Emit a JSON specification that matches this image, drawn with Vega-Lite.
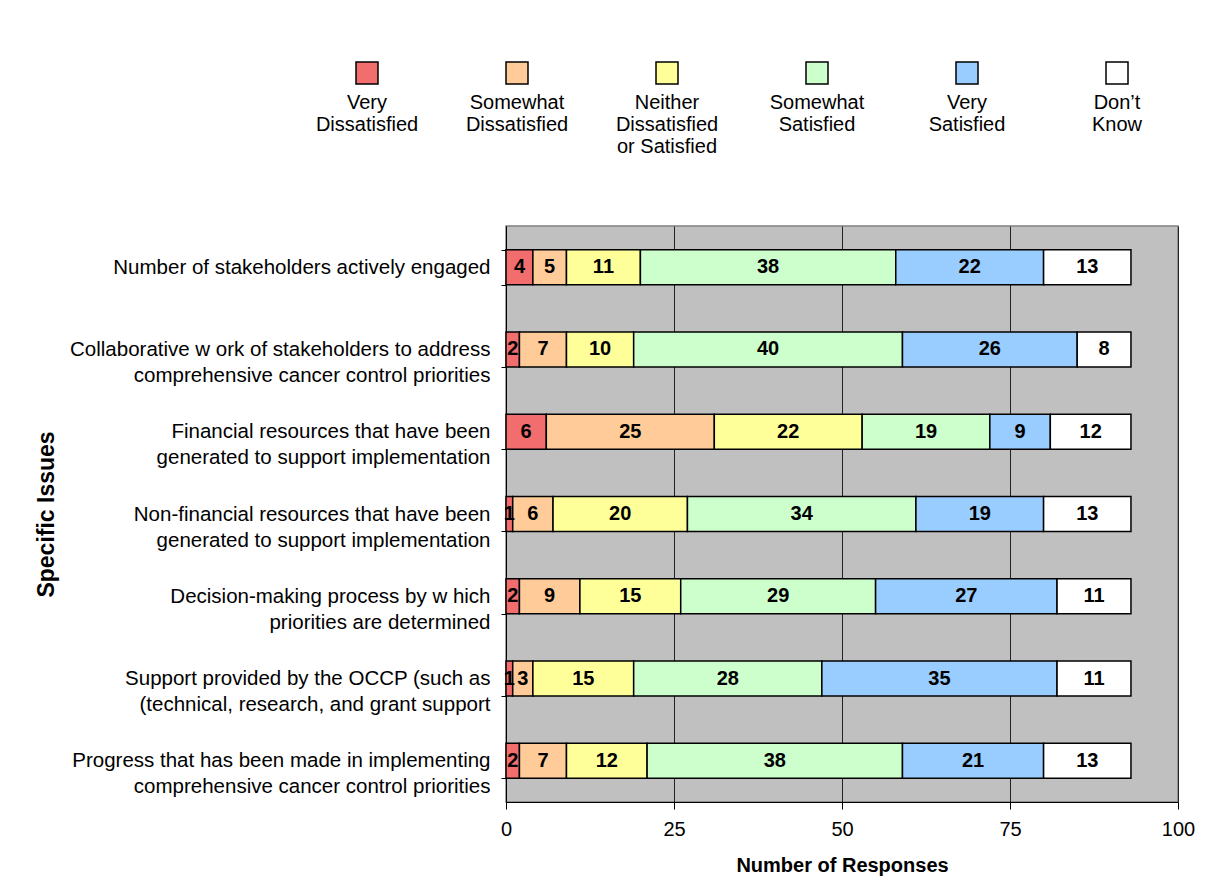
{
  "$schema": "https://vega.github.io/schema/vega-lite/v6.json",
  "width": 672,
  "height": 576,
  "autosize": {"type": "none"},
  "padding": {"left": 506, "top": 226, "right": 50, "bottom": 88},
  "background": "white",
  "config": {
    "font": "Liberation Sans",
    "view": {"fill": "#C0C0C0", "stroke": "#808080", "strokeWidth": 1.5}
  },
  "data": {
    "values": [
      {"issue": "Number of stakeholders actively engaged", "level": "Very Dissatisfied", "k": 1, "n": 4},
      {"issue": "Number of stakeholders actively engaged", "level": "Somewhat Dissatisfied", "k": 2, "n": 5},
      {"issue": "Number of stakeholders actively engaged", "level": "Neither Dissatisfied or Satisfied", "k": 3, "n": 11},
      {"issue": "Number of stakeholders actively engaged", "level": "Somewhat Satisfied", "k": 4, "n": 38},
      {"issue": "Number of stakeholders actively engaged", "level": "Very Satisfied", "k": 5, "n": 22},
      {"issue": "Number of stakeholders actively engaged", "level": "Don’t Know", "k": 6, "n": 13},
      {"issue": "Collaborative w ork of stakeholders to address|comprehensive cancer control priorities", "level": "Very Dissatisfied", "k": 1, "n": 2},
      {"issue": "Collaborative w ork of stakeholders to address|comprehensive cancer control priorities", "level": "Somewhat Dissatisfied", "k": 2, "n": 7},
      {"issue": "Collaborative w ork of stakeholders to address|comprehensive cancer control priorities", "level": "Neither Dissatisfied or Satisfied", "k": 3, "n": 10},
      {"issue": "Collaborative w ork of stakeholders to address|comprehensive cancer control priorities", "level": "Somewhat Satisfied", "k": 4, "n": 40},
      {"issue": "Collaborative w ork of stakeholders to address|comprehensive cancer control priorities", "level": "Very Satisfied", "k": 5, "n": 26},
      {"issue": "Collaborative w ork of stakeholders to address|comprehensive cancer control priorities", "level": "Don’t Know", "k": 6, "n": 8},
      {"issue": "Financial resources that have been|generated  to support implementation", "level": "Very Dissatisfied", "k": 1, "n": 6},
      {"issue": "Financial resources that have been|generated  to support implementation", "level": "Somewhat Dissatisfied", "k": 2, "n": 25},
      {"issue": "Financial resources that have been|generated  to support implementation", "level": "Neither Dissatisfied or Satisfied", "k": 3, "n": 22},
      {"issue": "Financial resources that have been|generated  to support implementation", "level": "Somewhat Satisfied", "k": 4, "n": 19},
      {"issue": "Financial resources that have been|generated  to support implementation", "level": "Very Satisfied", "k": 5, "n": 9},
      {"issue": "Financial resources that have been|generated  to support implementation", "level": "Don’t Know", "k": 6, "n": 12},
      {"issue": "Non-financial resources that have been|generated  to support implementation", "level": "Very Dissatisfied", "k": 1, "n": 1},
      {"issue": "Non-financial resources that have been|generated  to support implementation", "level": "Somewhat Dissatisfied", "k": 2, "n": 6},
      {"issue": "Non-financial resources that have been|generated  to support implementation", "level": "Neither Dissatisfied or Satisfied", "k": 3, "n": 20},
      {"issue": "Non-financial resources that have been|generated  to support implementation", "level": "Somewhat Satisfied", "k": 4, "n": 34},
      {"issue": "Non-financial resources that have been|generated  to support implementation", "level": "Very Satisfied", "k": 5, "n": 19},
      {"issue": "Non-financial resources that have been|generated  to support implementation", "level": "Don’t Know", "k": 6, "n": 13},
      {"issue": "Decision-making process by w hich|priorities are determined", "level": "Very Dissatisfied", "k": 1, "n": 2},
      {"issue": "Decision-making process by w hich|priorities are determined", "level": "Somewhat Dissatisfied", "k": 2, "n": 9},
      {"issue": "Decision-making process by w hich|priorities are determined", "level": "Neither Dissatisfied or Satisfied", "k": 3, "n": 15},
      {"issue": "Decision-making process by w hich|priorities are determined", "level": "Somewhat Satisfied", "k": 4, "n": 29},
      {"issue": "Decision-making process by w hich|priorities are determined", "level": "Very Satisfied", "k": 5, "n": 27},
      {"issue": "Decision-making process by w hich|priorities are determined", "level": "Don’t Know", "k": 6, "n": 11},
      {"issue": "Support provided by the OCCP (such as|(technical, research, and grant support", "level": "Very Dissatisfied", "k": 1, "n": 1},
      {"issue": "Support provided by the OCCP (such as|(technical, research, and grant support", "level": "Somewhat Dissatisfied", "k": 2, "n": 3},
      {"issue": "Support provided by the OCCP (such as|(technical, research, and grant support", "level": "Neither Dissatisfied or Satisfied", "k": 3, "n": 15},
      {"issue": "Support provided by the OCCP (such as|(technical, research, and grant support", "level": "Somewhat Satisfied", "k": 4, "n": 28},
      {"issue": "Support provided by the OCCP (such as|(technical, research, and grant support", "level": "Very Satisfied", "k": 5, "n": 35},
      {"issue": "Support provided by the OCCP (such as|(technical, research, and grant support", "level": "Don’t Know", "k": 6, "n": 11},
      {"issue": "Progress that has been made in implementing|comprehensive cancer control priorities", "level": "Very Dissatisfied", "k": 1, "n": 2},
      {"issue": "Progress that has been made in implementing|comprehensive cancer control priorities", "level": "Somewhat Dissatisfied", "k": 2, "n": 7},
      {"issue": "Progress that has been made in implementing|comprehensive cancer control priorities", "level": "Neither Dissatisfied or Satisfied", "k": 3, "n": 12},
      {"issue": "Progress that has been made in implementing|comprehensive cancer control priorities", "level": "Somewhat Satisfied", "k": 4, "n": 38},
      {"issue": "Progress that has been made in implementing|comprehensive cancer control priorities", "level": "Very Satisfied", "k": 5, "n": 21},
      {"issue": "Progress that has been made in implementing|comprehensive cancer control priorities", "level": "Don’t Know", "k": 6, "n": 13}
    ]
  },
  "encoding": {
    "y": {
      "field": "issue",
      "type": "nominal",
      "sort": null,
      "scale": {"paddingInner": 0.575, "paddingOuter": 0.2875},
      "axis": {
        "title": "Specific Issues",
        "titleFontSize": 23,
        "titleFontWeight": "bold",
        "titleColor": "black",
        "titleX": -460,
        "titleY": 288,
        "titleAngle": 270,
        "titleAlign": "center",
        "titleBaseline": "middle",
        "labelExpr": "split(datum.label, '|')",
        "labelFontSize": 20.5,
        "labelColor": "black",
        "labelLineHeight": 26,
        "labelPadding": 11,
        "labelLimit": 600,
        "tickBand": "extent",
        "tickSize": 5,
        "tickColor": "black",
        "domainColor": "black",
        "grid": false
      }
    },
    "x": {
      "field": "n",
      "type": "quantitative",
      "stack": "zero",
      "scale": {"domain": [0, 100]},
      "axis": {
        "values": [0, 25, 50, 75, 100],
        "title": "Number of Responses",
        "titleFontSize": 20,
        "titleFontWeight": "bold",
        "titleColor": "black",
        "titleY": 63,
        "titleBaseline": "middle",
        "labelFontSize": 20,
        "labelColor": "black",
        "labelPadding": 10,
        "labelFlush": false,
        "tickSize": 7,
        "tickColor": "black",
        "domainColor": "black",
        "grid": true,
        "gridColor": "#222222",
        "gridWidth": 1
      }
    },
    "order": {"field": "k", "type": "quantitative"}
  },
  "layer": [
    {
      "mark": {"type": "bar", "stroke": "black", "strokeWidth": 1.5},
      "encoding": {
        "color": {
          "field": "level",
          "type": "nominal",
          "scale": {
            "domain": ["Very Dissatisfied", "Somewhat Dissatisfied", "Neither Dissatisfied or Satisfied", "Somewhat Satisfied", "Very Satisfied", "Don’t Know"],
            "range": ["#F26D6D", "#FFCC99", "#FFFF99", "#CCFFCC", "#99CCFF", "#FFFFFF"]
          },
          "legend": {
            "orient": "none",
            "legendX": -151,
            "legendY": -165,
            "direction": "horizontal",
            "columns": 6,
            "title": null,
            "padding": 0,
            "gridAlign": "all",
            "symbolType": "square",
            "symbolSize": 484,
            "symbolStrokeColor": "black",
            "symbolStrokeWidth": 1.5,
            "symbolOpacity": 1,
            "labelFontSize": 20,
            "labelColor": "black",
            "labelAlign": "center",
            "labelBaseline": "top",
            "labelOffset": -12,
            "labelLimit": 300,
            "columnPadding": 46,
            "labelExpr": "split(replace(replace(datum.label, ' ', '|'), ' or ', '|or ') + (indexof(datum.label, ' or ') < 0 ? '| ' : ''), '|')",
            "encode": {"labels": {"update": {"dy": {"value": 20}, "lineHeight": {"value": 22}}}}
          }
        }
      }
    },
    {
      "mark": {"type": "text", "fontWeight": "bold", "fontSize": 20, "color": "black", "baseline": "middle"},
      "encoding": {
        "x": {"field": "n", "type": "quantitative", "stack": "zero", "bandPosition": 0.5},
        "detail": {"field": "level"},
        "text": {"field": "n", "type": "quantitative"}
      }
    }
  ]
}
